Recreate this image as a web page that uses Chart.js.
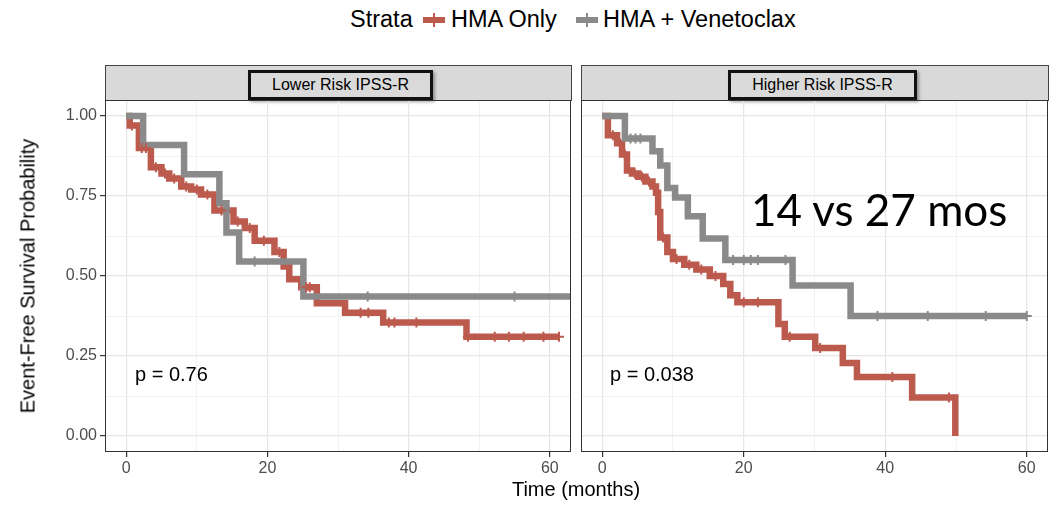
<!DOCTYPE html>
<html>
<head>
<meta charset="utf-8">
<script src="https://cdn.jsdelivr.net/npm/chart.js@4.4.0/dist/chart.umd.min.js"></script>
<style>
  body { margin: 0; background: #fff; }
  #wrap { position: relative; width: 1051px; height: 505px; overflow: hidden; font-family: "Liberation Sans", Arial, sans-serif; color: #000; }
  .abs { position: absolute; white-space: nowrap; }
  canvas { position: absolute; }
  .strip { position: absolute; top: 65px; height: 36px; background: #d9d9d9; border: 1px solid #444; box-sizing: border-box; }
  .tag { position: absolute; top: 4px; height: 30px; border: 3px solid #111; box-sizing: border-box; background: #dadada;
         font-size: 16px; line-height: 24px; text-align: center; box-shadow: 2px 2px 3px rgba(0,0,0,.35); }
  .key { position: absolute; top: 17px; width: 22px; height: 6px; }
  .key::after { content: ''; position: absolute; left: 10px; top: -4px; width: 2px; height: 14px; background: inherit; }
  .leg { position: absolute; top: 6px; font-size: 23.5px; white-space: nowrap; }
</style>
</head>
<body>
<div id="wrap">
  <div class="leg" style="left:350px;">Strata</div>
  <div class="key" style="left:423px;background:#bd5a4e"></div>
  <div class="leg" style="left:451px;">HMA Only</div>
  <div class="key" style="left:576px;background:#8a8a8a"></div>
  <div class="leg" style="left:603px;">HMA + Venetoclax</div>

  <div class="strip" style="left:105px;width:467px;"><div class="tag" style="left:142px;width:185px;">Lower Risk IPSS-R</div></div>
  <div class="strip" style="left:581px;width:468px;"><div class="tag" style="left:146px;width:189px;">Higher Risk IPSS-R</div></div>

  <canvas id="lower" width="575" height="386" style="left:0;top:96px;"></canvas>
  <canvas id="higher" width="471" height="386" style="left:581px;top:96px;"></canvas>

  <div class="abs" style="left:28px;top:276px;font-size:20px;transform:translate(-50%,-50%) rotate(-90deg);">Event-Free Survival Probability</div>
  <div class="abs" style="left:576px;top:478px;font-size:20px;transform:translateX(-50%);">Time (months)</div>
  <div class="abs" style="left:135px;top:363px;font-size:20px;">p = 0.76</div>
  <div class="abs" style="left:610px;top:363px;font-size:20px;">p = 0.038</div>
  <div class="abs" style="left:751px;top:183px;font-size:44px;font-family:Lato,'Open Sans',sans-serif;">14 vs 27 mos</div>
</div>

<script>
// axes
const xTicks = [0, 10, 20, 30, 40, 50, 60];
const xLabels = [0, 20, 40, 60];
const yTicks = [0, 0.125, 0.25, 0.375, 0.5, 0.625, 0.75, 0.875, 1];
const yLabels = [0, 0.25, 0.5, 0.75, 1];

// Lower risk IPSS-R, HMA only
const lowerHmaTime = [0, 0.5, 1.8, 3.5, 5.0, 6.1, 7.8, 9.2, 10.6, 12.5, 15.2, 16.8, 18.2, 21.0, 22.3, 23.1, 24.8, 27.0, 31.0, 36.4, 48.2, 61.4];
const lowerHmaSurv = [1, 0.97, 0.90, 0.84, 0.82, 0.805, 0.78, 0.77, 0.755, 0.705, 0.67, 0.65, 0.61, 0.575, 0.53, 0.49, 0.465, 0.415, 0.385, 0.355, 0.31, 0.31];
const lowerHmaCensor = [0.8, 2.2, 2.8, 4.2, 5.5, 6.8, 8.5, 10.0, 11.5, 13.5, 15.8, 17.5, 19.5, 21.7, 25.5, 26.0, 33.2, 34.3, 37.2, 38.0, 41.1, 48.4, 52.2, 54.2, 56.3, 59.1, 61.3];

// Lower risk IPSS-R, HMA + venetoclax
const lowerVenTime = [0, 2.4, 8.2, 13.2, 14.2, 16.0, 25.1, 63];
const lowerVenSurv = [1, 0.909, 0.818, 0.727, 0.636, 0.545, 0.436, 0.436];
const lowerVenCensor = [18.2, 34.2, 55.0];

// Higher risk IPSS-R, HMA only
const higherHmaTime = [0, 0.8, 2.1, 2.8, 3.5, 4.2, 5.1, 6.1, 7.1, 7.6, 7.9, 8.2, 9.2, 10.0, 11.6, 13.3, 15.2, 17.1, 18.1, 19.1, 24.9, 25.8, 30.1, 34.0, 36.0, 43.8, 49.9];
const higherHmaSurv = [1, 0.94, 0.915, 0.88, 0.83, 0.82, 0.81, 0.795, 0.78, 0.76, 0.70, 0.62, 0.575, 0.553, 0.535, 0.52, 0.50, 0.475, 0.44, 0.418, 0.35, 0.31, 0.275, 0.228, 0.184, 0.12, 0.0];
const higherHmaCensor = [1.5, 2.5, 3.2, 4.6, 5.6, 6.6, 8.6, 10.5, 12.3, 14.0, 16.0, 20.0, 22.0, 26.5, 30.8, 41.0, 49.0];

// Higher risk IPSS-R, HMA + venetoclax
const higherVenTime = [0, 3.2, 7.1, 8.2, 9.2, 10.3, 12.1, 14.2, 17.4, 26.9, 35.1, 60];
const higherVenSurv = [1, 0.93, 0.89, 0.845, 0.775, 0.745, 0.687, 0.617, 0.55, 0.47, 0.375, 0.375];
const higherVenCensor = [4.0, 4.7, 5.4, 18.5, 20.0, 21.0, 22.0, 25.9, 38.9, 46.0, 54.2, 60.0];

const RED = '#bd5a4e';
const GRAY = '#8a8a8a';

function steps(times, surv) {
    return times.map((t, i) => ({ x: t, y: surv[i] }));
}

// value of the step curve at time t
function survAt(times, surv, t) {
    let s = surv[0];
    for (let i = 0; i < times.length; i++) {
        if (times[i] <= t) s = surv[i];
    }
    return s;
}

function censors(times, surv, cens) {
    return cens.map(t => ({ x: t, y: survAt(times, surv, t) }));
}

const frame = {
    id: 'frame',
    afterDatasetsDraw(chart) {
        const a = chart.chartArea;
        const ctx = chart.ctx;
        ctx.save();
        ctx.strokeStyle = '#333';
        ctx.lineWidth = 1;
        ctx.strokeRect(Math.round(a.left) + 0.5, Math.round(a.top) + 0.5, Math.round(a.right - a.left) - 1, Math.round(a.bottom - a.top) - 1);
        ctx.restore();
    }
};

function lineSet(data, color, order) {
    return { type: 'line', data, borderColor: color, borderWidth: 6.5, stepped: 'before', pointRadius: 0,
             borderJoinStyle: 'miter', borderCapStyle: 'butt', fill: false, order };
}

function censorSet(data, color) {
    return { type: 'line', data, showLine: false, pointStyle: 'cross', pointRadius: 5, pointBorderWidth: 2,
             pointBorderColor: color, pointBackgroundColor: color, borderColor: color, order: 0 };
}

function makePanel(id, hma, ven, showY) {
    const grid = (major) => (c) => (major.includes(c.tick.value) ? '#e6e6e6' : '#f2f2f2');
    return new Chart(document.getElementById(id), {
        type: 'line',
        data: {
            datasets: [
                lineSet(steps(hma[0], hma[1]), RED, 2),
                lineSet(steps(ven[0], ven[1]), GRAY, 1),
                censorSet(censors(hma[0], hma[1], hma[2]), RED),
                censorSet(censors(ven[0], ven[1], ven[2]), GRAY)
            ]
        },
        options: {
            responsive: false,
            animation: false,
            layout: { autoPadding: false, padding: { top: 4, right: 4, left: 0, bottom: 0 } },
            plugins: { legend: { display: false }, tooltip: { enabled: false } },
            scales: {
                x: {
                    type: 'linear', min: -3, max: 63,
                    afterBuildTicks: s => { s.ticks = xTicks.map(v => ({ value: v })); },
                    afterFit: s => { s.height = 30; s.paddingLeft = 0; s.paddingRight = 0; },
                    border: { display: false },
                    grid: {
                        color: grid(xLabels),
                        lineWidth: c => (xLabels.includes(c.tick.value) ? 1.2 : 1),
                        tickColor: c => (xLabels.includes(c.tick.value) ? '#333' : 'rgba(0,0,0,0)'),
                        tickLength: 5, tickWidth: 1.2
                    },
                    ticks: {
                        color: '#4d4d4d', font: { size: 16, family: '"Liberation Sans", Arial' }, padding: 2,
                        maxRotation: 0, autoSkip: false,
                        callback: v => (xLabels.includes(v) ? String(v) : '')
                    }
                },
                y: {
                    type: 'linear', min: -0.05, max: 1.05,
                    afterBuildTicks: s => { s.ticks = yTicks.map(v => ({ value: v })); },
                    afterFit: s => { s.width = showY ? 105 : 0; s.paddingTop = 0; s.paddingBottom = 0; },
                    border: { display: false },
                    grid: {
                        color: grid(yLabels),
                        lineWidth: c => (yLabels.includes(c.tick.value) ? 1.2 : 1),
                        tickColor: c => (yLabels.includes(c.tick.value) ? '#333' : 'rgba(0,0,0,0)'),
                        drawTicks: showY, tickLength: 5, tickWidth: 1.2
                    },
                    ticks: {
                        display: showY,
                        color: '#4d4d4d', font: { size: 16, family: '"Liberation Sans", Arial' }, padding: 3,
                        callback: v => (yLabels.includes(v) ? v.toFixed(2) : '')
                    }
                }
            }
        },
        plugins: [frame]
    });
}

makePanel('lower', [lowerHmaTime, lowerHmaSurv, lowerHmaCensor], [lowerVenTime, lowerVenSurv, lowerVenCensor], true);
makePanel('higher', [higherHmaTime, higherHmaSurv, higherHmaCensor], [higherVenTime, higherVenSurv, higherVenCensor], false);
</script>
</body>
</html>
